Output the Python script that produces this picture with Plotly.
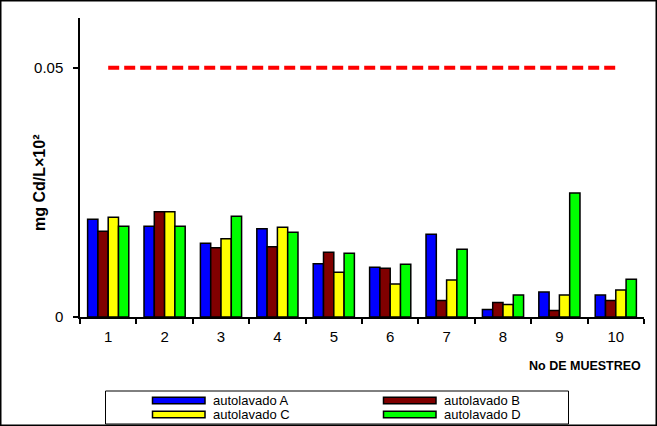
import plotly.graph_objects as go

categories = ["1", "2", "3", "4", "5", "6", "7", "8", "9", "10"]
series_names = ["autolavado A", "autolavado B", "autolavado C", "autolavado D"]
series_colors = ["#0000FF", "#800000", "#FFFF00", "#00FF00"]
autolavado_A = [0.0196, 0.0182, 0.0148, 0.0177, 0.0107, 0.0100, 0.0166, 0.0015, 0.0050, 0.0044]
autolavado_B = [0.0172, 0.0211, 0.0139, 0.0141, 0.0130, 0.0098, 0.0033, 0.0029, 0.0013, 0.0033]
autolavado_C = [0.0200, 0.0211, 0.0157, 0.0180, 0.0090, 0.0066, 0.0074, 0.0025, 0.0044, 0.0054]
autolavado_D = [0.0182, 0.0182, 0.0202, 0.0170, 0.0128, 0.0106, 0.0136, 0.0044, 0.0249, 0.0076]
limit_value = [0.05] * 10
y_tickvals = [0, 0.05]
y_ticktext = ["0", "0.05"]

FONT = "Liberation Sans, Arial, sans-serif"
series_values = [autolavado_A, autolavado_B, autolavado_C, autolavado_D]

fig = go.Figure()
for name, color, vals in zip(series_names, series_colors, series_values):
    fig.add_trace(go.Bar(
        x=categories, y=vals, name=name, showlegend=False,
        marker=dict(color=color, line=dict(color="black", width=1.5)),
    ))

fig.add_trace(go.Scatter(
    x=categories, y=limit_value, mode="lines", showlegend=False,
    line=dict(color="#FF0000", width=4, dash="11px,5px"),
))

# plot area geometry (pixels) for converting legend layout to paper coords
L, R, T, B = 80, 13, 18, 109
W, H = 657, 426
pw, ph = W - L - R, H - T - B

def px(x):
    return (x - L) / pw

def py(y):
    return (H - B - y) / ph

shapes = []
annotations = []
# outer chart frame
shapes.append(dict(type="rect", xref="paper", yref="paper",
                   x0=px(0.75), x1=px(656.25), y0=py(0.75), y1=py(425.25),
                   line=dict(color="black", width=1.5), fillcolor="rgba(0,0,0,0)", layer="above"))
# legend box
shapes.append(dict(type="rect", xref="paper", yref="paper",
                   x0=px(105.5), x1=px(568.5), y0=py(391), y1=py(424),
                   line=dict(color="black", width=1), fillcolor="white"))
sw_x = [152.5, 383.5, 152.5, 383.5]
sw_y = [400.5, 400.5, 414.5, 414.5]
for i, name in enumerate(series_names):
    shapes.append(dict(type="rect", xref="paper", yref="paper",
                       x0=px(sw_x[i]), x1=px(sw_x[i] + 52.5),
                       y0=py(sw_y[i] - 3.3), y1=py(sw_y[i] + 3.3),
                       line=dict(color="black", width=1.5), fillcolor=series_colors[i]))
    annotations.append(dict(xref="paper", yref="paper", x=px(sw_x[i] + 58.5), y=py(sw_y[i]),
                            text=name, showarrow=False, xanchor="left", yanchor="middle",
                            font=dict(family=FONT, size=13, color="black")))

annotations.append(dict(xref="paper", yref="paper", x=px(643), y=py(366),
                        text="<b>No DE MUESTREO</b>", showarrow=False,
                        xanchor="right", yanchor="middle",
                        font=dict(family=FONT, size=12.5, color="black")))

# y-axis title
annotations.append(dict(xref="paper", yref="paper", x=px(39), y=py(183),
                        text="<b>mg Cd/L×10²</b>", showarrow=False, textangle=-90,
                        xanchor="center", yanchor="middle",
                        font=dict(family=FONT, size=16, color="black")))

fig.update_layout(
    width=W, height=H,
    margin=dict(l=L, r=R, t=T, b=B),
    paper_bgcolor="white", plot_bgcolor="white",
    barmode="group", bargap=0.27, bargroupgap=0,
    font=dict(family=FONT, size=14, color="black"),
    shapes=shapes, annotations=annotations,
    xaxis=dict(type="category", showline=True, linecolor="black", linewidth=1.5,
               ticks="outside", tickson="boundaries", ticklen=5, tickcolor="black",
               tickwidth=1.5, showgrid=False, zeroline=False,
               tickfont=dict(family=FONT, size=15), ticklabelstandoff=5),
    yaxis=dict(range=[0, 0.06], tickvals=y_tickvals, ticktext=y_ticktext,
               showline=True, linecolor="black", linewidth=1.5,
               ticks="outside", ticklen=5, tickcolor="black", tickwidth=1.5,
               showgrid=False, zeroline=False, ticklabelstandoff=7,
               tickfont=dict(family=FONT, size=15)),
)

fig.write_html("out.html", config={"displayModeBar": False},
               post_script="document.body.style.margin='0';document.body.style.overflow='hidden';")
